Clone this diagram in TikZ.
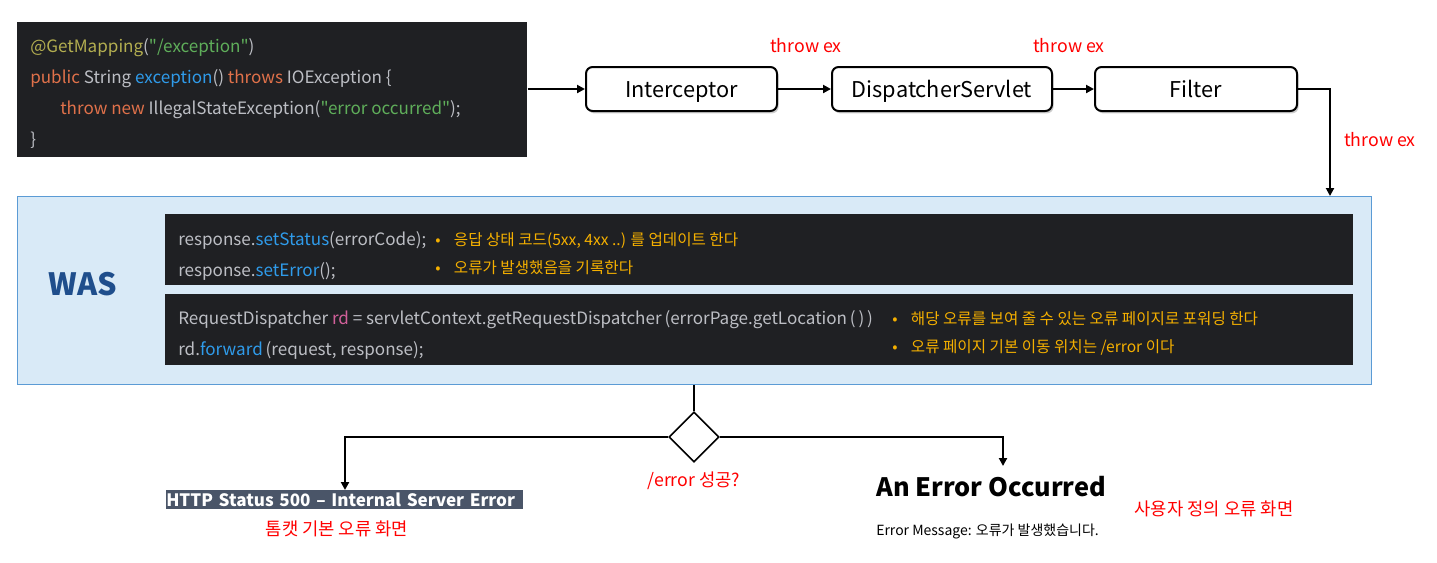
\documentclass[tikz,border=0pt]{standalone}
\usepackage{fontspec}
\setmainfont{Noto Sans CJK KR}[Ligatures=TeXOff]
\usetikzlibrary{shapes.geometric,arrows.meta,shadows}
\definecolor{codebg}{HTML}{1F2023}
\definecolor{cgray}{HTML}{BCBEC4}
\definecolor{cannot}{HTML}{B3AE50}
\definecolor{cstr}{HTML}{5FAE5A}
\definecolor{ckw}{HTML}{E0714A}
\definecolor{cfun}{HTML}{2F9BEA}
\definecolor{crd}{HTML}{D2609A}
\definecolor{cbullet}{HTML}{F5B000}
\definecolor{wasfill}{HTML}{D9EAF7}
\definecolor{wasline}{HTML}{5B9BD5}
\definecolor{wastext}{HTML}{1F4E8C}
\definecolor{httpbar}{HTML}{4A5568}
\definecolor{redtxt}{HTML}{FF0000}
\newcommand{\flowtext}[1]{\raisebox{-3.5pt}{#1}}
\begin{document}
\begin{tikzpicture}[x=0.75pt,y=-0.75pt,
  codeline/.style={anchor=west,inner sep=0pt,text=cgray,font=\fontsize{12.8}{15}\selectfont,text height=0.75em,text depth=0.2em,yshift=-2pt},
  noteline/.style={anchor=west,inner sep=0pt,text=cbullet,font=\fontsize{11.7}{13}\selectfont,text height=0.75em,text depth=0.2em,yshift=-2pt},
  flowbox/.style={draw=black,line width=1.5pt,rounded corners=5pt,fill=white,minimum width=#1,minimum height=33pt,inner sep=0pt,font=\fontsize{16.3}{19}\selectfont,text height=0.75em,text depth=0.2em,drop shadow={shadow xshift=1.2pt,shadow yshift=-1.8pt,opacity=0.4}},
  redlabel/.style={text=redtxt,inner sep=0pt,font=\fontsize{13.3}{15}\selectfont},
  conn/.style={line width=1.5pt,-{Triangle[length=6pt,width=6pt]}},
  plain/.style={line width=1.5pt}]
\useasboundingbox (0,0) rectangle (1437,562);
\fill[white] (0,0) rectangle (1437,562);
% code box
\node[fill=codebg,minimum width=382.5pt,minimum height=101.25pt,inner sep=0pt,anchor=north west] (code) at (17,22) {};
\node[codeline] (c1) at (30,46) {\textcolor{cannot}{@GetMapping}(\textcolor{cstr}{"/exception"})};
\node[codeline] (c2) at (30,77) {\textcolor{ckw}{public} String \textcolor{cfun}{exception}() \textcolor{ckw}{throws} IOException \{};
\node[codeline] (c3) at (60,108) {\textcolor{ckw}{throw new} IllegalStateException(\textcolor{cstr}{"error occurred"});};
\node[codeline] (c4) at (30,139) {\}};
% flow boxes
\node[flowbox=143.25pt] (icp) at (681.5,89) {\flowtext{Interceptor}};
\node[flowbox=165pt] (ds) at (942,89) {\flowtext{DispatcherServlet}};
\node[flowbox=151.5pt] (flt) at (1196,89) {\flowtext{Filter}};
\node[redlabel] (t1) at (806,46) {throw ex};
\node[redlabel] (t2) at (1069,46) {throw ex};
\node[redlabel] (t3) at (1380,140) {throw ex};
% WAS box
\node[draw=wasline,fill=wasfill,line width=0.8pt,minimum width=1015.5pt,minimum height=141pt,inner sep=0pt,anchor=north west] (was) at (17,196) {};
\node[text=wastext,font=\fontsize{23}{26}\selectfont\bfseries] (wasl) at (83,284) {WAS};
\node[fill=codebg,minimum width=891pt,minimum height=53.25pt,inner sep=0pt,anchor=north west] (inner1) at (165,214) {};
\node[fill=codebg,minimum width=891pt,minimum height=53.25pt,inner sep=0pt,anchor=north west] (inner2) at (165,294) {};
\node[codeline] (s1) at (178,239) {response.\textcolor{cfun}{setStatus}(errorCode);};
\node[codeline] (s2) at (178,270) {response.\textcolor{cfun}{setError}();};
\node[noteline] (b1) at (435,239) {•\hspace{10pt}응답 상태 코드(5xx, 4xx ..) 를 업데이트 한다};
\node[noteline] (b2) at (435,267) {•\hspace{10pt}오류가 발생했음을 기록한다};
\node[codeline] (r1) at (178,318) {RequestDispatcher \textcolor{crd}{rd} = servletContext.getRequestDispatcher\,(errorPage.getLocation\,(\,)\,)};
\node[codeline] (r2) at (178,349) {rd.\textcolor{cfun}{forward}\,(request, response);};
\node[noteline] (b3) at (892,318) {•\hspace{10pt}해당 오류를 보여 줄 수 있는 오류 페이지로 포워딩 한다};
\node[noteline] (b4) at (892,346) {•\hspace{10pt}오류 페이지 기본 이동 위치는 /error 이다};
% decision
\node[draw=black,line width=1.2pt,diamond,minimum width=37.5pt,minimum height=37.5pt,inner sep=0pt] (dec) at (694,437) {};
\node[redlabel] (declbl) at (694,481) {/error 성공?};
% results
\node[fill=httpbar,text=white,anchor=north west,text width=267.75pt,minimum height=14.25pt,inner sep=0pt,align=left,font=\fontsize{12.8}{14}\selectfont\bfseries] (http) at (166,490) {HTTP Status 500 – Internal Server Error};
\node[redlabel] (tomcat) at (337,529) {톰캣 기본 오류 화면};
\node[anchor=west,inner sep=0pt,font=\fontsize{19}{22}\selectfont\bfseries] (aeo) at (876,487) {An Error Occurred};
\node[anchor=west,inner sep=0pt,font=\fontsize{10.5}{12}\selectfont] (emsg) at (876,531) {Error Message: 오류가 발생했습니다.};
\node[redlabel] (custom) at (1214,509) {사용자 정의 오류 화면};
% connectors
\coordinate (fc) at (1330,89);
\coordinate (lc) at (345,437);
\coordinate (rc) at (1003,437);
\draw[conn] (code.east |- icp) -- (icp.west);
\draw[conn] (icp) -- (ds);
\draw[conn] (ds) -- (flt);
\draw[conn] (flt.east) -- (fc) -- (fc |- was.north);
\draw[plain] (was.south -| dec) -- (dec.north);
\draw[conn] (dec.west) -- (lc) -- (lc |- http.north);
\draw[conn] (dec.east) -- (rc) -- ++(0,29);
\end{tikzpicture}
\end{document}
